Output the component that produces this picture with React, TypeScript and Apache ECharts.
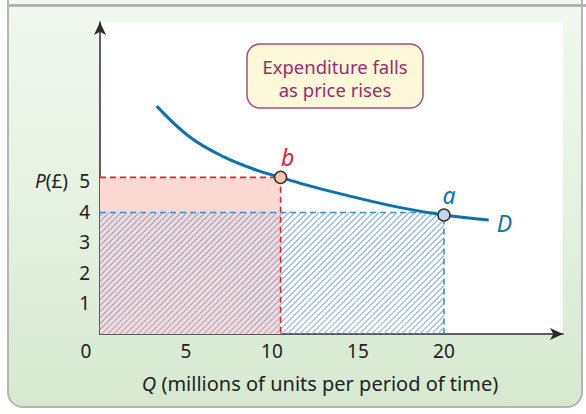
import React, { useEffect, useRef } from 'react';
import * as echarts from 'echarts';

const xTicks = [0, 5, 10, 15, 20];
const yTicks = [1, 2, 3, 4, 5];
const axisMax = { q: 26.92, p: 10.2 };
const demandCurve: [number, number][] = [
  [3.3, 7.45], [5.2, 6.45], [7.2, 5.79], [9.1, 5.36], [10.5, 5.12],
  [12.4, 4.81], [14.3, 4.54], [17.4, 4.14], [20, 3.89], [22.6, 3.73],
];
const pointB: [number, number] = [10.5, 5.12];
const pointA: [number, number] = [20, 3.89];
const rectB: [number, number] = [10.5, 5.12];
const rectA: [number, number] = [20, 3.97];
const boxLines = ['Expenditure falls', 'as price rises'];
const xTitle = ' (millions of units per period of time)';

const FONT = 'Noto Sans, Liberation Sans, sans-serif';
const BLUE = '#0b72ad';
const RED = '#e5222c';
const INK = '#222';
const TICK_FS = 19;

export default function App() {
  const ref = useRef<HTMLDivElement>(null);
  useEffect(() => {
    if (!ref.current) return;
    const chart = echarts.init(ref.current, null, { renderer: 'svg' });
    const axisLine = {
      show: true,
      symbol: ['none', 'arrow'],
      symbolSize: [9, 13],
      lineStyle: { color: '#2b2b2b', width: 1.5 },
    };
    chart.setOption({
      animation: false,
      textStyle: { fontFamily: FONT },
      grid: {
        left: 100, top: 22, width: 463, height: 312,
        show: true, backgroundColor: '#ffffff', borderWidth: 0,
      },
      xAxis: {
        type: 'value', min: 0, max: axisMax.q, interval: 5,
        axisLine, axisTick: { show: false }, splitLine: { show: false },
        axisLabel: {
          customValues: xTicks,
          fontSize: TICK_FS, color: INK, margin: 7, fontFamily: FONT,
          formatter: (v: number) => (v === 0 ? '{o|0}' : String(v)),
          rich: { o: { fontSize: TICK_FS, color: INK, padding: [0, 28, 0, 0], fontFamily: FONT } },
        },
      },
      yAxis: {
        type: 'value', min: 0, max: axisMax.p, interval: 1,
        axisLine, axisTick: { show: false }, splitLine: { show: false },
        axisLabel: { customValues: yTicks, fontSize: TICK_FS, color: INK, margin: 10, fontFamily: FONT },
      },
      graphic: [
        {
          type: 'group', z: 100,
          children: [
            {
              type: 'rect',
              shape: { x: 247, y: 44, width: 176, height: 64, r: 13 },
              style: { fill: '#fdf9d8', stroke: '#a84f83', lineWidth: 1.5 },
            },
            ...boxLines.map((t, i) => ({
              type: 'text', x: 335, y: 66 + i * 23,
              style: {
                text: t, fontSize: 18.5, fontFamily: FONT,
                fill: '#9a2b6c', align: 'center', verticalAlign: 'middle',
              },
            })),
          ],
        },
        {
          type: 'text', x: 68, y: 181,
          style: {
            text: '{i|P}(£)', fontSize: TICK_FS, fill: INK, fontFamily: FONT,
            align: 'right', verticalAlign: 'middle',
            rich: { i: { fontStyle: 'italic', fontSize: TICK_FS, fill: INK, fontFamily: FONT } },
          },
        },
        {
          type: 'text', x: 320, y: 383,
          style: {
            text: '{i|Q}' + xTitle, fontSize: 20, fill: INK, fontFamily: FONT,
            align: 'center', verticalAlign: 'middle',
            rich: { i: { fontStyle: 'italic', fontSize: 20, fill: INK, fontFamily: FONT } },
          },
        },
      ],
      series: [
        {
          type: 'custom', silent: true, z: 1,
          data: [rectB],
          renderItem: (params: any, api: any) => {
            const p0 = api.coord([0, 0]);
            const p1 = api.coord([api.value(0), api.value(1)]);
            return {
              type: 'rect',
              shape: { x: p0[0], y: p1[1], width: p1[0] - p0[0], height: p0[1] - p1[1] },
              style: { fill: '#fbd9d2' },
            };
          },
        },
        {
          type: 'custom', silent: true, z: 2,
          data: [rectA],
          renderItem: (params: any, api: any) => {
            const p0 = api.coord([0, 0]);
            const p1 = api.coord([api.value(0), api.value(1)]);
            const x0 = p0[0], x1 = p1[0], yT = p1[1], yB = p0[1];
            const children: any[] = [];
            for (let c = x0 + yT + 3; c < x1 + yB; c += 6) {
              const sx = Math.max(x0, c - yB);
              const ex = Math.min(x1, c - yT);
              if (ex > sx) {
                children.push({
                  type: 'line',
                  shape: { x1: sx, y1: c - sx, x2: ex, y2: c - ex },
                  style: { stroke: '#82abdb', lineWidth: 1.05 },
                });
              }
            }
            return { type: 'group', children };
          },
        },
        {
          type: 'line', z: 3, symbol: 'none', silent: true,
          data: [[0, rectB[1]], [rectB[0], rectB[1]], [rectB[0], 0]],
          lineStyle: { color: RED, width: 1.6, type: [6, 4] },
        },
        {
          type: 'line', z: 3, symbol: 'none', silent: true,
          data: [[0, rectA[1]], [rectA[0], rectA[1]], [rectA[0], 0]],
          lineStyle: { color: '#3f8dc2', width: 1.6, type: [6, 4] },
        },
        {
          type: 'line', z: 4, symbol: 'none', smooth: 0.4, silent: true,
          data: demandCurve,
          lineStyle: { color: BLUE, width: 3 },
          endLabel: {
            show: true, formatter: 'D', fontSize: 23, fontStyle: 'italic',
            color: BLUE, fontFamily: FONT, distance: 8, offset: [0, 3],
          },
        },
        {
          type: 'scatter', z: 5, symbolSize: 12, silent: true,
          data: [pointB],
          itemStyle: { color: '#f7c8ae', borderColor: '#333', borderWidth: 1.5, opacity: 1 },
          label: {
            show: true, position: 'top', formatter: 'b', fontSize: 23, fontStyle: 'italic',
            color: RED, fontFamily: FONT, distance: 2, offset: [7, 0],
          },
        },
        {
          type: 'scatter', z: 5, symbolSize: 12, silent: true,
          data: [pointA],
          itemStyle: { color: '#c6d7ea', borderColor: '#333', borderWidth: 1.5, opacity: 1 },
          label: {
            show: true, position: 'top', formatter: 'a', fontSize: 23, fontStyle: 'italic',
            color: BLUE, fontFamily: FONT, distance: 2, offset: [5, 0],
          },
        },
      ],
    });
    return () => chart.dispose();
  }, []);

  return (
    <div style={{ position: 'fixed', left: 0, top: 0, width: 586, height: 414, background: '#fff', overflow: 'hidden' }}>
      <div
        style={{
          position: 'absolute', left: 7, top: -20, width: 576, height: 428,
          border: '2.5px solid #b4b4b4', borderRadius: '0 0 16px 16px',
          background: 'linear-gradient(180deg, #f2f9f1 0%, #e6f2e2 50%, #d6e9d0 100%)',
          boxSizing: 'border-box',
        }}
      />
      <div style={{ position: 'absolute', left: 7, top: 4, width: 579, height: 2.5, background: '#b4b4b4' }} />
      <div ref={ref} style={{ position: 'absolute', left: 0, top: 0, width: 586, height: 414 }} />
    </div>
  );
}
